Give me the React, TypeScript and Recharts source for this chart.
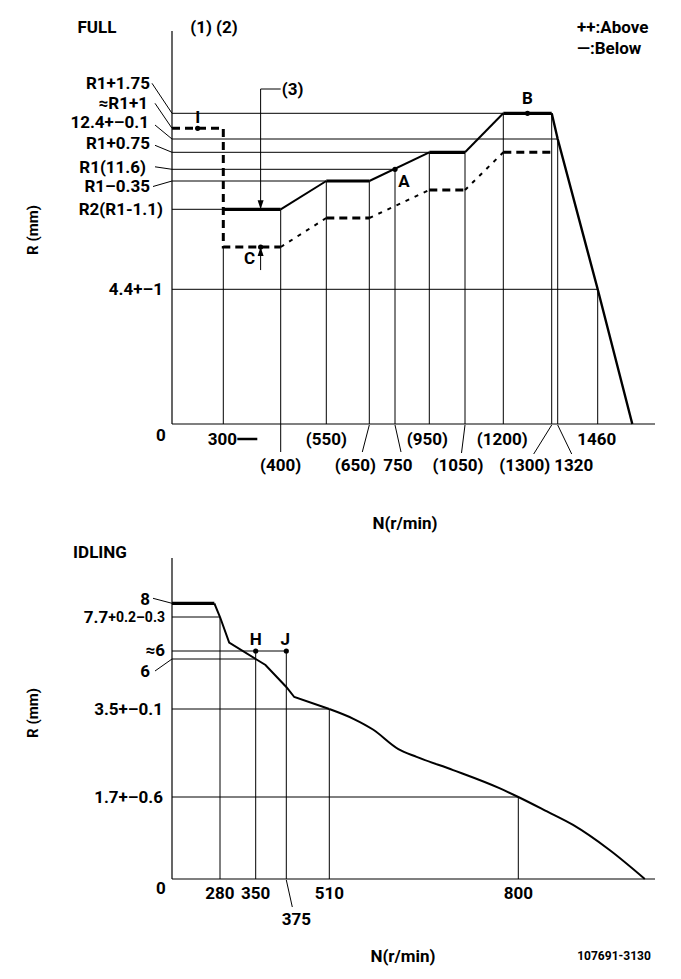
import React from 'react'
import { LineChart, Line, XAxis, YAxis, ReferenceLine, ReferenceDot } from 'recharts'

// ---------- FULL (upper chart) ----------
const fullTickRpm = [0, 300, 400, 550, 650, 750, 950, 1050, 1200, 1300, 1320, 1460]
const fullTickLabels = ['0', '300', '(400)', '(550)', '(650)', '750', '(950)', '(1050)', '(1200)', '(1300)', '1320', '1460']
const fullDropR = [0, 9.9, 10.5, 11.25, 11.25, 11.6, 12.35, 12.35, 13.35, 13.35, 12.4, 4.4]

const fullLevelR = [13.35, 12.6, 12.4, 12.35, 11.6, 11.25, 10.5, 4.4]
const fullLevelLabels = ['R1+1.75', '≈R1+1', '12.4+–0.1', 'R1+0.75', 'R1(11.6)', 'R1–0.35', 'R2(R1-1.1)', '4.4+–1']
const fullLevelToRpm = [1200, 0, 1320, 950, 750, 550, 300, 1460]

const solidRpm = [300, 400, 550, 650, 950, 1050, 1200, 1300, 1320, 1460, 1540]
const solidR = [10.5, 10.5, 11.25, 11.25, 12.35, 12.35, 13.35, 13.35, 12.4, 4.4, 0]
const dashRpm = [0, 300, 300, 400, 550, 650, 950, 1050, 1200, 1300]
const dashR = [12.6, 12.6, 9.9, 9.9, 10.35, 10.35, 11.0, 11.0, 12.35, 12.35]

const fullPointNames = ['I', 'A', 'B', 'C']
const fullPointRpm = [150, 750, 1250, 365]
const fullPointR = [12.6, 11.6, 13.35, 9.9]

// schematic (non-linear) axes of the drawing: [value, axis units]
const fullRpmAxis: [number, number][] = [
  [0, 0], [300, 51.3], [400, 108.7], [550, 154.3], [650, 197.3], [750, 223], [950, 257.3],
  [1050, 293], [1200, 331.3], [1300, 379.7], [1320, 385.7], [1460, 425.7], [1540, 460.3],
]
const fullRAxis: [number, number][] = [
  [0, 0], [4.4, 134.7], [9.9, 177], [10.35, 206], [10.5, 214.7], [11.0, 234], [11.25, 243],
  [11.6, 254.7], [12.35, 271.7], [12.4, 285], [12.6, 295.7], [13.35, 310.7], [14.6, 335],
]

// ---------- IDLING (lower chart) ----------
const idleTickRpm = [0, 280, 350, 375, 510, 800]
const idleTickLabels = ['0', '280', '350', '375', '510', '800']
const idleDropR = [0, 7.7, 6.2, 6.2, 3.5, 1.7]

const idleLevelR = [8, 7.7, 6.2, 6, 3.5, 1.7]
const idleLevelLabels = ['8', '7.7', '≈6', '6', '3.5+–0.1', '1.7+–0.6']
const idleLevelToRpm = [0, 280, 375, 350, 510, 800]

const idleRpm = [0, 247, 280, 298, 350, 358, 375, 400, 510, 547, 577, 616, 644, 700, 771, 800, 844, 884, 940, 994]
const idleR = [8, 8, 7.7, 6.57, 6.0, 5.7, 4.6, 4.1, 3.5, 3.3, 3.08, 2.68, 2.52, 2.25, 1.88, 1.7, 1.4, 1.12, 0.6, 0]

const idlePointNames = ['H', 'J']
const idlePointRpm = [350, 375]
const idlePointR = [6.2, 6.2]

const idleRpmAxis: [number, number][] = [
  [0, 0], [280, 48], [350, 83.7], [375, 114.3], [510, 157.3], [800, 346.3], [1000, 476.7],
]
const idleRAxis: [number, number][] = [
  [0, 0], [1.7, 82], [3.5, 170], [6, 220], [6.2, 228], [7.7, 262], [8, 275.7], [9, 321],
]

// ---------- helpers ----------
const scaleBy = (bp: [number, number][]) => (v: number) => {
  for (let i = 1; i < bp.length; i++) {
    if (v <= bp[i][0] || i === bp.length - 1) {
      const [a0, b0] = bp[i - 1]
      const [a1, b1] = bp[i]
      return b0 + ((v - a0) * (b1 - b0)) / (a1 - a0)
    }
  }
  return 0
}
const fx = scaleBy(fullRpmAxis)
const fy = scaleBy(fullRAxis)
const ix = scaleBy(idleRpmAxis)
const iy = scaleBy(idleRAxis)

const seg = (rpm: number[], r: number[], from: number, to: number, mx: (v: number) => number, my: (v: number) => number) =>
  rpm.slice(from, to + 1).map((v, k) => ({ x: mx(v), y: my(r[from + k]) }))

const FONT = "Roboto, 'DejaVu Sans', sans-serif"
const txt: React.CSSProperties = { fontFamily: FONT, fontWeight: 700 }
const FS = 17

type XL = { dx: number; dy: number; leader?: number[]; dash?: number[] }
const fullXLayout: Record<string, XL> = {
  '0': { dx: -11, dy: 11 },
  '300': { dx: -1, dy: 15, dash: [14, 34] },
  '(400)': { dx: 0, dy: 41, leader: [0, 0, 0, 28] },
  '(550)': { dx: 0, dy: 15 },
  '(650)': { dx: -14, dy: 41, leader: [0, 1, -7, 28] },
  '750': { dx: 3, dy: 41, leader: [0, 1, 6, 28] },
  '(950)': { dx: -2, dy: 15 },
  '(1050)': { dx: -7, dy: 41, leader: [0, 1, -3.5, 29] },
  '(1200)': { dx: -1, dy: 15 },
  '(1300)': { dx: -27, dy: 41, leader: [0, 1, -18, 30] },
  '1320': { dx: 16, dy: 41, leader: [0, 1, 14, 30] },
  '1460': { dx: -1, dy: 15 },
}
const idleXLayout: Record<string, XL> = {
  '0': { dx: -11, dy: 9 },
  '280': { dx: 0, dy: 14 },
  '350': { dx: 0, dy: 14 },
  '375': { dx: 10, dy: 40, leader: [0, 1, 6, 28] },
  '510': { dx: 0, dy: 14 },
  '800': { dx: 0, dy: 14 },
}

type YL = { right: number; dy: number; leader?: number[]; small?: string }
const fullYLayout: Record<string, YL> = {
  'R1+1.75': { right: -22, dy: -30, leader: [-20, -30, 0, 0] },
  '≈R1+1': { right: -24, dy: -25, leader: [-17, -25, 0, 0] },
  '12.4+–0.1': { right: -23, dy: -17, leader: [-17, -14, 0, 0] },
  'R1+0.75': { right: -22, dy: -9, leader: [-17, -7, 0, 0] },
  'R1(11.6)': { right: -26, dy: -2.5, leader: [-17, -2.5, 0, 0] },
  'R1–0.35': { right: -22, dy: 4.5, leader: [-19, 5.5, 0, 0] },
  'R2(R1-1.1)': { right: -9, dy: 0 },
  '4.4+–1': { right: -9, dy: 0 },
}
const idleYLayout: Record<string, YL> = {
  '8': { right: -22, dy: -4, leader: [-19, -5, 0, 0] },
  '7.7': { right: -7, dy: 0, small: '+0.2–0.3' },
  '≈6': { right: -7, dy: -1 },
  '6': { right: -22, dy: 12, leader: [-17, 12, 0, 0] },
  '3.5+–0.1': { right: -9, dy: 0 },
  '1.7+–0.6': { right: -9, dy: 0 },
}

const findIdx = (arr: number[], v: number) => arr.findIndex((t) => Math.abs(t - v) < 1e-6)

function XTick(props: any) {
  const { x, y, payload, ticks, labels, layout } = props
  const label = labels[findIdx(ticks, payload.value)]
  if (label === undefined) return <g />
  const l: XL = layout[label] || { dx: 0, dy: 15 }
  return (
    <g>
      {l.leader && (
        <line x1={x + l.leader[0]} y1={y + l.leader[1]} x2={x + l.leader[2]} y2={y + l.leader[3]} stroke="#000" strokeWidth={1} />
      )}
      {l.dash && <line x1={x + l.dash[0]} y1={y + l.dy} x2={x + l.dash[1]} y2={y + l.dy} stroke="#000" strokeWidth={2.5} />}
      <text x={x + l.dx} y={y + l.dy} textAnchor="middle" dominantBaseline="central" fontSize={FS} fill="#000" style={txt}>
        {label}
      </text>
    </g>
  )
}

function YTick(props: any) {
  const { x, y, payload, ticks, labels, layout } = props
  const label = labels[findIdx(ticks, payload.value)]
  if (label === undefined) return <g />
  const l: YL = layout[label] || { right: -9, dy: 0 }
  return (
    <g>
      {l.leader && (
        <line x1={x + l.leader[0]} y1={y + l.leader[1]} x2={x + l.leader[2]} y2={y + l.leader[3]} stroke="#000" strokeWidth={1} />
      )}
      <text x={x + l.right} y={y + l.dy} textAnchor="end" dominantBaseline="central" fontSize={FS} fill="#000" style={txt}>
        {label}
        {l.small && <tspan fontSize={14}>{l.small}</tspan>}
      </text>
    </g>
  )
}

const arrow = (dir: 'up' | 'down') => (p: any) => {
  const { cx, cy } = p
  const s = dir === 'down' ? -1 : 1
  return <path d={`M${cx - 3},${cy + s * 9} L${cx + 3},${cy + s * 9} L${cx},${cy} Z`} fill="#000" />
}

const pointShape = (name: string, dx: number, dy: number) => (p: any) => (
  <g>
    <circle cx={p.cx} cy={p.cy} r={2.6} fill="#000" />
    <text x={p.cx + dx} y={p.cy + dy} textAnchor="middle" dominantBaseline="central" fontSize={FS} fill="#000" style={txt}>
      {name}
    </text>
  </g>
)
const textShape = (s: string, dx: number) => (p: any) => (
  <text x={p.cx + dx} y={p.cy} textAnchor="start" dominantBaseline="central" fontSize={FS} fill="#000" style={txt}>
    {s}
  </text>
)

const pointLabelOffset: Record<string, [number, number]> = {
  I: [0, -11], A: [9, 12], B: [0, -15], C: [-11, 11], H: [0, -12], J: [-1, -12],
}

const thin = { stroke: '#000', strokeWidth: 1 }

export default function App() {
  const fullTicksX = fullTickRpm.map(fx)
  const fullTicksY = fullLevelR.map(fy)
  const idleTicksX = idleTickRpm.map(ix)
  const idleTicksY = idleLevelR.map(iy)

  const solidThick = [[0, 1], [2, 3], [4, 5], [6, 7]]
  const solidThin = [[1, 2], [3, 4], [5, 6]]
  const dashThick = [[0, 3], [4, 5], [6, 7], [8, 9]]
  const dashThin = [[3, 4], [5, 6], [7, 8]]

  return (
    <div style={{ position: 'absolute', left: 0, top: 0, width: 681, height: 979, background: '#fff' }}>
      {/* FULL */}
      <div style={{ position: 'absolute', left: 0, top: 0 }}>
        <LineChart width={681} height={540} margin={{ top: 31, right: 26, bottom: 115, left: 171 }}>
          <XAxis
            type="number"
            dataKey="x"
            domain={[0, 483]}
            ticks={fullTicksX}
            interval={0}
            height={1}
            tickSize={0}
            tickMargin={0}
            tickLine={false}
            axisLine={{ stroke: '#000', strokeWidth: 1.2 }}
            tick={(p: any) => <XTick {...p} ticks={fullTicksX} labels={fullTickLabels} layout={fullXLayout} />}
          />
          <YAxis
            type="number"
            dataKey="y"
            domain={[0, 393]}
            ticks={fullTicksY}
            interval={0}
            width={1}
            tickSize={0}
            tickMargin={0}
            tickLine={false}
            axisLine={{ stroke: '#000', strokeWidth: 1.2 }}
            tick={(p: any) => <YTick {...p} ticks={fullTicksY} labels={fullLevelLabels} layout={fullYLayout} />}
          />
          {fullLevelR.map((r, i) =>
            fullLevelToRpm[i] > 0 ? (
              <ReferenceLine key={'h' + i} segment={[{ x: 0, y: fy(r) }, { x: fx(fullLevelToRpm[i]), y: fy(r) }]} {...thin} ifOverflow="visible" />
            ) : null
          )}
          {fullTickRpm.map((rpm, i) =>
            i > 0 ? (
              <ReferenceLine key={'v' + i} segment={[{ x: fx(rpm), y: 0 }, { x: fx(rpm), y: fy(fullDropR[i]) }]} {...thin} ifOverflow="visible" />
            ) : null
          )}
          {solidThin.map(([a, b], i) => (
            <Line key={'st' + i} data={seg(solidRpm, solidR, a, b, fx, fy)} dataKey="y" type="linear" stroke="#000" strokeWidth={2} dot={false} activeDot={false} isAnimationActive={false} />
          ))}
          {solidThick.map(([a, b], i) => (
            <Line key={'sk' + i} data={seg(solidRpm, solidR, a, b, fx, fy)} dataKey="y" type="linear" stroke="#000" strokeWidth={3.2} dot={false} activeDot={false} isAnimationActive={false} />
          ))}
          <Line data={seg(solidRpm, solidR, 7, 10, fx, fy)} dataKey="y" type="linear" stroke="#000" strokeWidth={2.4} dot={false} activeDot={false} isAnimationActive={false} />
          {dashThin.map(([a, b], i) => (
            <Line key={'dt' + i} data={seg(dashRpm, dashR, a, b, fx, fy)} dataKey="y" type="linear" stroke="#000" strokeWidth={2} strokeDasharray="4 6" dot={false} activeDot={false} isAnimationActive={false} />
          ))}
          {dashThick.map(([a, b], i) => (
            <Line key={'dk' + i} data={seg(dashRpm, dashR, a, b, fx, fy)} dataKey="y" type="linear" stroke="#000" strokeWidth={3} strokeDasharray="8 5" dot={false} activeDot={false} isAnimationActive={false} />
          ))}
          {/* (3) marker and C arrow */}
          <ReferenceLine segment={[{ x: fx(365), y: fy(14.6) }, { x: fx(400), y: fy(14.6) }]} {...thin} ifOverflow="visible" />
          <ReferenceLine segment={[{ x: fx(365), y: fy(14.6) }, { x: fx(365), y: fy(10.5) }]} {...thin} ifOverflow="visible" />
          <ReferenceDot x={fx(365)} y={fy(10.5)} r={0} shape={arrow('down')} ifOverflow="visible" />
          <ReferenceDot x={fx(400)} y={fy(14.6)} r={0} shape={textShape('(3)', 1)} ifOverflow="visible" />
          <ReferenceLine segment={[{ x: fx(365), y: fy(6.9) }, { x: fx(365), y: fy(9.9) }]} {...thin} ifOverflow="visible" />
          <ReferenceDot x={fx(365)} y={fy(9.9)} r={0} shape={arrow('up')} ifOverflow="visible" />
          {fullPointNames.map((n, i) => (
            <ReferenceDot
              key={n}
              x={fx(fullPointRpm[i])}
              y={fy(fullPointR[i])}
              r={2.6}
              shape={pointShape(n, pointLabelOffset[n][0], pointLabelOffset[n][1])}
              ifOverflow="visible"
            />
          ))}
        </LineChart>
      </div>

      {/* IDLING */}
      <div style={{ position: 'absolute', left: 0, top: 540 }}>
        <LineChart width={681} height={439} margin={{ top: 18, right: 26, bottom: 99, left: 171 }}>
          <XAxis
            type="number"
            dataKey="x"
            domain={[0, 483]}
            ticks={idleTicksX}
            interval={0}
            height={1}
            tickSize={0}
            tickMargin={0}
            tickLine={false}
            axisLine={{ stroke: '#000', strokeWidth: 1.2 }}
            tick={(p: any) => <XTick {...p} ticks={idleTicksX} labels={idleTickLabels} layout={idleXLayout} />}
          />
          <YAxis
            type="number"
            dataKey="y"
            domain={[0, 321]}
            ticks={idleTicksY}
            interval={0}
            width={1}
            tickSize={0}
            tickMargin={0}
            tickLine={false}
            axisLine={{ stroke: '#000', strokeWidth: 1.2 }}
            tick={(p: any) => <YTick {...p} ticks={idleTicksY} labels={idleLevelLabels} layout={idleYLayout} />}
          />
          {idleLevelR.map((r, i) =>
            idleLevelToRpm[i] > 0 ? (
              <ReferenceLine key={'h' + i} segment={[{ x: 0, y: iy(r) }, { x: ix(idleLevelToRpm[i]), y: iy(r) }]} {...thin} ifOverflow="visible" />
            ) : null
          )}
          {idleTickRpm.map((rpm, i) =>
            i > 0 ? (
              <ReferenceLine key={'v' + i} segment={[{ x: ix(rpm), y: 0 }, { x: ix(rpm), y: iy(idleDropR[i]) }]} {...thin} ifOverflow="visible" />
            ) : null
          )}
          <Line data={seg(idleRpm, idleR, 0, 1, ix, iy)} dataKey="y" type="linear" stroke="#000" strokeWidth={3.2} dot={false} activeDot={false} isAnimationActive={false} />
          <Line data={seg(idleRpm, idleR, 1, 8, ix, iy)} dataKey="y" type="linear" stroke="#000" strokeWidth={2} dot={false} activeDot={false} isAnimationActive={false} />
          <Line data={seg(idleRpm, idleR, 8, idleRpm.length - 1, ix, iy)} dataKey="y" type="monotone" stroke="#000" strokeWidth={2} dot={false} activeDot={false} isAnimationActive={false} />
          {idlePointNames.map((n, i) => (
            <ReferenceDot
              key={n}
              x={ix(idlePointRpm[i])}
              y={iy(idlePointR[i])}
              r={2.6}
              shape={pointShape(n, pointLabelOffset[n][0], pointLabelOffset[n][1])}
              ifOverflow="visible"
            />
          ))}
        </LineChart>
      </div>

      {/* titles and notes */}
      <svg width={681} height={979} style={{ position: 'absolute', left: 0, top: 0, pointerEvents: 'none' }}>
        <g style={txt} fill="#000" fontSize={FS}>
          <text x={97} y={27} textAnchor="middle" dominantBaseline="central">FULL</text>
          <text x={214} y={27} textAnchor="middle" dominantBaseline="central">(1) (2)</text>
          <text x={577} y={27} dominantBaseline="central">++:Above</text>
          <text x={577} y={48} dominantBaseline="central">—:Below</text>
          <text x={405} y={523} textAnchor="middle" dominantBaseline="central">N(r/min)</text>
          <text x={100} y={552} textAnchor="middle" dominantBaseline="central">IDLING</text>
          <text x={403} y={956} textAnchor="middle" dominantBaseline="central">N(r/min)</text>
          <text x={614} y={956} textAnchor="middle" dominantBaseline="central" fontSize={12}>107691-3130</text>
          <text x={33} y={230} textAnchor="middle" dominantBaseline="central" fontSize={15} transform="rotate(-90 33 230)">R (mm)</text>
          <text x={33} y={713} textAnchor="middle" dominantBaseline="central" fontSize={15} transform="rotate(-90 33 713)">R (mm)</text>
        </g>
      </svg>
    </div>
  )
}
